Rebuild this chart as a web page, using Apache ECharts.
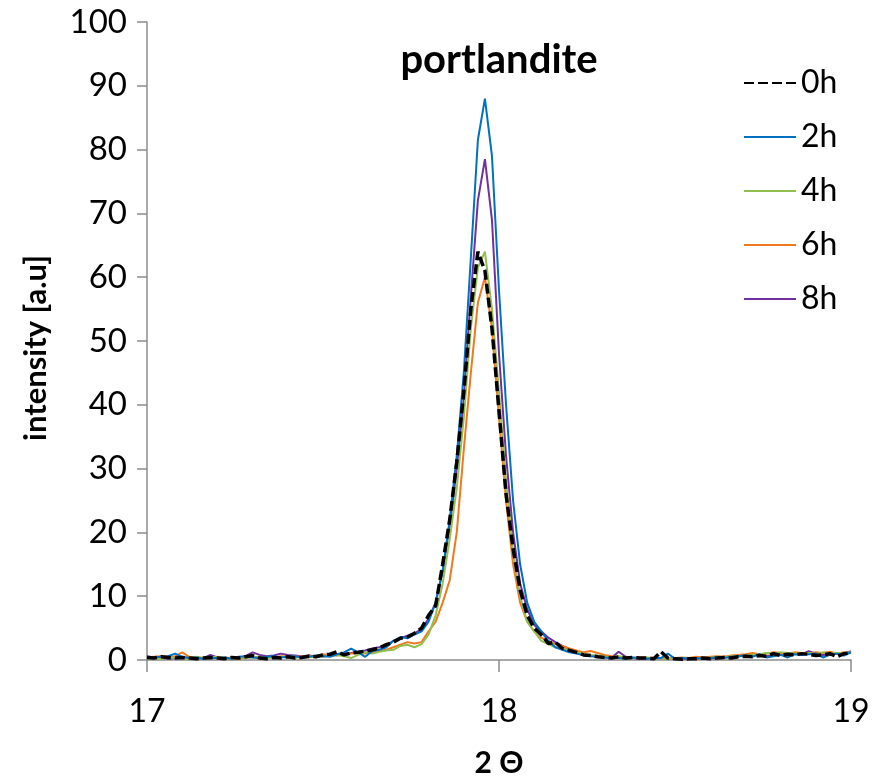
<!DOCTYPE html>
<html>
<head>
<meta charset="utf-8">
<script src="https://cdn.jsdelivr.net/npm/echarts@6/dist/echarts.min.js"></script>
<style>
html,body{margin:0;padding:0;background:#fff;overflow:hidden;}
#chart{width:883px;height:783px;}
</style>
</head>
<body>
<div id="chart"></div>
<script>
// 2-theta grid (degrees)
var twoTheta = [
17.00,17.02,17.04,17.06,17.08,17.10,17.12,17.14,17.16,17.18,
17.20,17.22,17.24,17.26,17.28,17.30,17.32,17.34,17.36,17.38,
17.40,17.42,17.44,17.46,17.48,17.50,17.52,17.54,17.56,17.58,
17.60,17.62,17.64,17.66,17.68,17.70,17.72,17.74,17.76,17.78,
17.80,17.82,17.84,17.86,17.88,17.90,17.92,17.94,17.96,17.98,
18.00,18.02,18.04,18.06,18.08,18.10,18.12,18.14,18.16,18.18,
18.20,18.22,18.24,18.26,18.28,18.30,18.32,18.34,18.36,18.38,
18.40,18.42,18.44,18.46,18.48,18.50,18.52,18.54,18.56,18.58,
18.60,18.62,18.64,18.66,18.68,18.70,18.72,18.74,18.76,18.78,
18.80,18.82,18.84,18.86,18.88,18.90,18.92,18.94,18.96,18.98,
19.00];

var seriesNames = ['0h','2h','4h','6h','8h'];

var int0h = [
0.4,0.3,0.5,0.4,0.3,0.4,0.3,0.2,0.3,0.4,
0.3,0.2,0.4,0.3,0.5,0.7,0.3,0.2,0.4,0.3,
0.5,0.3,0.4,0.6,0.5,0.8,0.9,1.3,0.8,1.1,
1.2,1.4,1.6,1.9,2.4,2.8,3.4,3.6,4.2,5.0,
7.0,8.5,15,22,31,42,55,64,61,52,
39,26,17.5,11,7,5,4,2.6,2.8,1.8,
1.5,1.2,0.8,0.7,0.5,0.4,0.3,0.5,0.3,0.4,
0.3,0.3,0.2,1.3,0.3,0.2,0.1,0.2,0.2,0.3,
0.2,0.3,0.4,0.3,0.5,0.6,0.5,0.7,0.6,1.0,
0.7,0.9,0.8,1.0,0.9,0.7,0.8,1.0,0.5,1.0,
1.1];

var int2h = [
0.3,0.4,0.5,0.6,1.0,0.5,0.3,0.4,0.2,0.3,
0.3,0.4,0.2,0.5,0.6,0.4,0.3,0.5,0.6,0.4,
0.5,0.6,0.4,0.5,0.7,0.6,0.5,0.9,1.2,1.8,
1.2,0.5,1.4,1.6,2.0,3.0,3.6,3.4,4.0,4.5,
6,9,14,22,32,45,63,81.5,88,79,
58,40,25,15,9,6,4.5,3,2,1.6,
1.2,1.0,0.8,0.6,0.5,0.4,0.3,0.3,0.2,0.4,
0.3,0.2,0.3,0.3,1.0,0.2,0.3,0.2,0.3,0.2,
0.3,0.4,0.3,0.5,0.6,0.7,0.5,0.9,0.4,0.6,
0.8,0.4,0.9,0.8,0.9,1.0,0.4,0.8,1.0,0.7,
1.2];

var int4h = [
0.2,0.3,0.2,0.3,0.4,0.3,0.2,0.5,0.3,0.4,
0.5,0.3,0.2,0.4,0.3,0.4,0.5,0.3,0.4,0.5,
0.4,0.3,0.5,0.4,0.6,0.5,0.7,0.8,0.6,0.3,
0.8,1.2,1.0,1.3,1.5,1.6,2.2,2.4,2.0,2.5,
4,7,12,19,27,38,52,61.5,64,55,
42,28,17,10,6,4.5,3,2.5,2,1.8,
1.5,1.2,1.0,0.8,0.7,0.5,0.4,0.6,0.4,0.3,
0.3,0.4,0.2,0.3,0.2,0.3,0.3,0.2,0.3,0.2,
0.4,0.5,0.4,0.6,0.5,0.7,0.8,0.9,1.1,1.0,
1.2,1.1,1.0,0.9,1.1,0.9,1.2,1.0,1.1,1.0,
1.2];

var int6h = [
0.4,0.5,0.6,0.5,0.6,1.2,0.5,0.4,0.3,0.4,
0.3,0.4,0.3,0.2,0.4,0.5,0.3,0.5,0.4,0.6,
0.5,0.6,0.5,0.7,0.6,0.9,0.8,0.7,0.9,1.0,
1.1,1.0,1.2,1.4,1.6,2.0,2.4,2.8,2.6,2.8,
4.5,6,9,12.5,20,33,45,56,60,52,
38,25,15,9,6,4.5,3.5,3,2.5,2.2,
1.8,1.5,1.2,1.4,1.1,0.8,0.6,0.4,0.5,0.3,
0.4,0.3,0.4,0.3,0.2,0.3,0.4,0.3,0.5,0.4,
0.5,0.6,0.5,0.7,0.8,0.9,1.1,0.9,1.0,1.2,
1.1,1.0,1.2,1.1,1.0,1.2,1.1,1.3,1.0,1.2,
1.1];

var int8h = [
0.6,0.4,0.3,0.2,0.3,0.4,0.3,0.2,0.3,0.8,
0.4,0.3,0.2,0.3,0.6,1.2,0.8,0.6,0.7,1.0,
0.8,0.7,0.6,0.7,0.5,0.6,0.8,0.9,1.0,1.1,
1.3,1.5,1.8,2.0,2.3,3.0,3.4,3.8,4.2,4.8,
6.5,9,14,21,30,41,57,72,78.5,69,
48,32,20,12,8,5.5,4.5,3.5,2.8,2.2,
1.6,1.2,0.9,0.7,0.6,0.4,0.4,1.3,0.5,0.3,
0.2,0.3,0.2,0.3,0.2,0.3,0.2,0.1,0.2,0.3,
0.2,0.4,0.5,0.4,0.7,0.6,0.9,0.7,0.6,0.8,
1.0,0.9,1.1,0.9,1.4,1.0,0.8,0.9,1.1,1.0,
1.4];

var xTicks = [17, 18, 19];
var yTicks = [0,10,20,30,40,50,60,70,80,90,100];

var colors = ['#000000','#0070C0','#92C050','#F07820','#7030A0'];
var values = [int0h,int2h,int4h,int6h,int8h];

function pairs(arr){
  var out = [];
  for (var i = 0; i < twoTheta.length; i++) out.push([twoTheta[i], arr[i]]);
  return out;
}

var FONT = 'Lato';
var series = seriesNames.map(function(name, k){
  return {
    name: name,
    type: 'line',
    symbol: 'none',
    smooth: false,
    data: pairs(values[k]),
    z: k === 0 ? 10 : 5 - k,
    lineStyle: k === 0
      ? {color: colors[k], width: 3.5, type: [10,4]}
      : {color: colors[k], width: 2},
    itemStyle: {color: colors[k]}
  };
});

var chart = echarts.init(document.getElementById('chart'), null, {renderer:'canvas', width: 883, height: 783});
chart.setOption({
  animation: false,
  backgroundColor: '#ffffff',
  title: {
    text: 'portlandite',
    left: 494, top: 35,
    textAlign: 'center',
    textStyle: {fontFamily: FONT, fontWeight: 'bold', fontSize: 40, color: '#000'}
  },
  legend: {
    orient: 'vertical',
    left: 738, top: 62,
    itemWidth: 52, itemHeight: 14,
    itemGap: 22,
    data: seriesNames,
    itemStyle: {opacity: 0},
    textStyle: {fontFamily: FONT, fontSize: 32, color: '#000', padding:[0,0,0,0]}
  },
  grid: {left: 147, width: 704, top: 22, height: 653, containLabel: false},
  xAxis: {
    type: 'value',
    min: 17, max: 19, interval: 1,
    name: '2 Θ',
    nameLocation: 'middle',
    nameGap: 88,
    nameTextStyle: {fontFamily: FONT, fontWeight: 'bold', fontSize: 30, color: '#000'},
    axisLine: {show: true, lineStyle: {color: '#8c8c8c', width: 1.5}},
    axisTick: {show: true, inside: false, length: 12, lineStyle: {color: '#8c8c8c', width: 1.5}},
    axisLabel: {fontFamily: FONT, fontSize: 32, color: '#000', margin: 36,
      formatter: function(v){ return xTicks.indexOf(v) >= 0 ? String(v) : ''; }},
    splitLine: {show: false}
  },
  yAxis: {
    type: 'value',
    min: 0, max: 100, interval: 10,
    name: 'intensity [a.u]',
    nameLocation: 'middle',
    nameGap: 96,
    nameRotate: 90,
    nameTextStyle: {fontFamily: FONT, fontWeight: 'bold', fontSize: 31, color: '#000', padding: [0, 14, 0, 0]},
    axisLine: {show: true, lineStyle: {color: '#8c8c8c', width: 1.5}},
    axisTick: {show: true, inside: false, length: 10, lineStyle: {color: '#8c8c8c', width: 1.5}},
    axisLabel: {fontFamily: FONT, fontSize: 33, color: '#000', margin: 20,
      formatter: function(v){ return yTicks.indexOf(v) >= 0 ? String(v) : ''; }},
    splitLine: {show: false}
  },
  series: series
});
</script>
</body>
</html>
